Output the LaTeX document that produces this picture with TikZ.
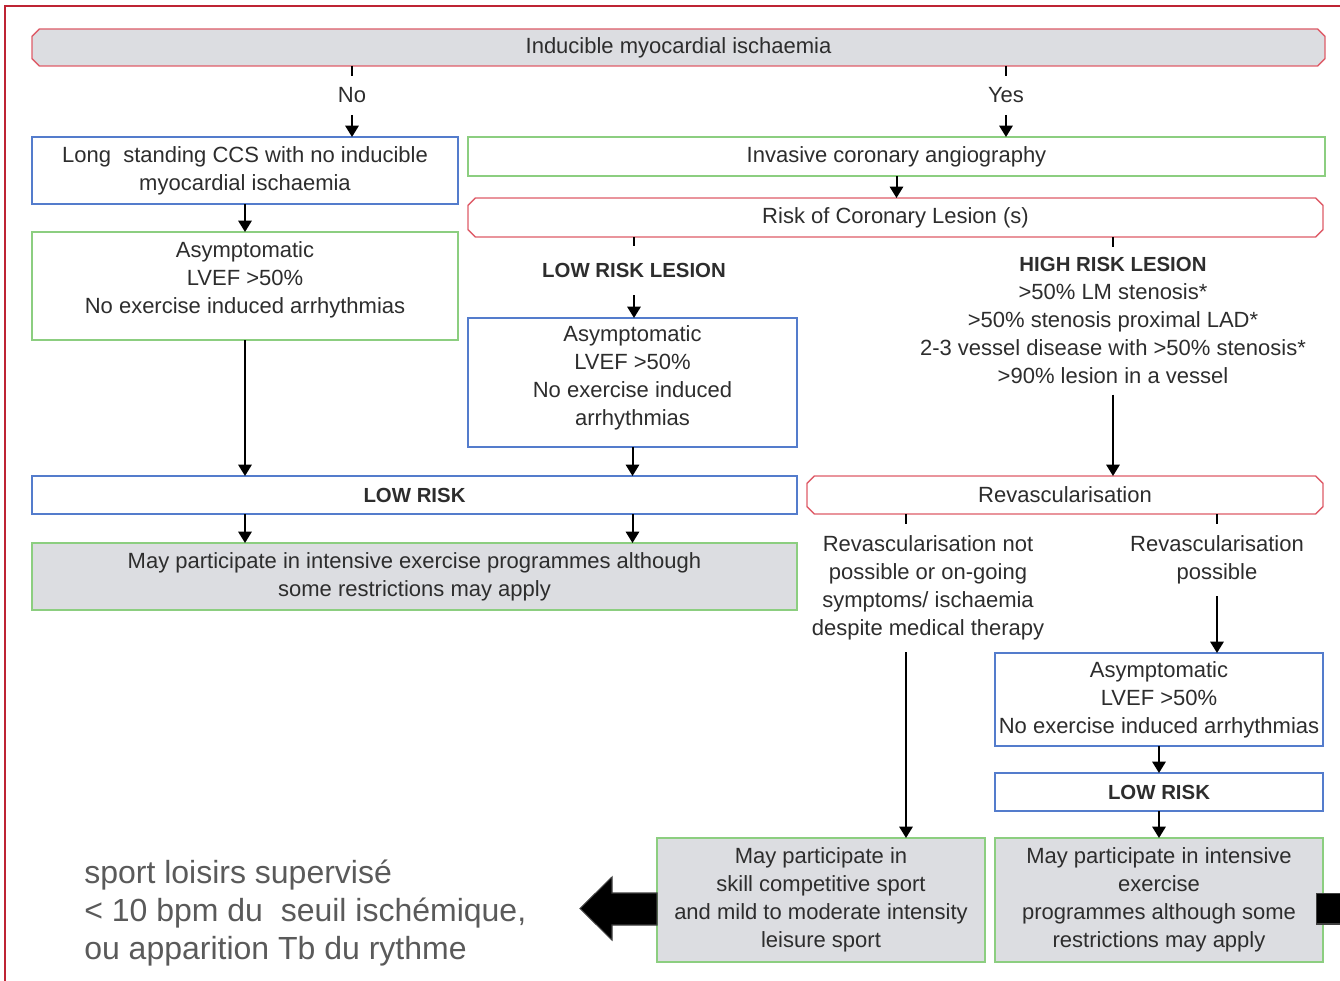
\documentclass[tikz,border=0pt]{standalone}
\usepackage{fontspec}
\setmainfont{Liberation Sans}
\usetikzlibrary{arrows.meta,backgrounds}
\definecolor{txt}{RGB}{45,45,45}
\definecolor{frtxt}{RGB}{90,90,90}
\definecolor{redc}{RGB}{222,92,104}
\definecolor{framec}{RGB}{190,36,52}
\definecolor{bluec}{RGB}{84,124,204}
\definecolor{greenc}{RGB}{140,206,128}
\definecolor{grayc}{RGB}{220,221,225}
\newcommand\mainsz{\fontsize{16.5}{21}\selectfont}
\newcommand\bsz{\bfseries\fontsize{15.3}{21}\selectfont}
\newcommand\bx[7]{\node[#6, minimum width={(#4-#2)*0.75pt}, minimum height={(#5-#3)*0.75pt}] (#1) at ({(#2+#4)/2},{(#3+#5)/2}) {#7};}
\newcommand\chamf[2]{\begin{scope}[on background layer]\path[draw=redc, line width=1.1pt, fill=#2]
 ([xshift=5.5pt]#1.north west) -- ([xshift=-5.5pt]#1.north east) -- ([yshift=-5.5pt]#1.north east) -- ([yshift=5.5pt]#1.south east) -- ([xshift=-5.5pt]#1.south east) -- ([xshift=5.5pt]#1.south west) -- ([yshift=5.5pt]#1.south west) -- ([yshift=-5.5pt]#1.north west) -- cycle;\end{scope}}
\begin{document}
\begin{tikzpicture}[x=0.75pt,y=-0.75pt,
  box/.style={draw, line width=1.1pt, inner sep=0pt, outer sep=0pt, align=center, text=txt, font=\mainsz},
  bluebox/.style={box, draw=bluec, fill=white},
  greenbox/.style={box, draw=greenc, fill=white},
  graybox/.style={box, draw=greenc, fill=grayc},
  chbox/.style={box, draw=none},
  lab/.style={inner sep=0pt, outer sep=0pt, align=center, text=txt, font=\mainsz},
  arr/.style={-{Triangle[width=10pt,length=8.5pt]}, line width=1.5pt, black},
  tick/.style={line width=1.5pt, black}]
\useasboundingbox (0,0) rectangle (1340,981);
% outer frame
\draw[framec, line width=1.8pt] (5,985) -- (5,6) -- (1345,6);
% boxes
\bx{ind}{32}{29}{1325}{66}{chbox}{Inducible myocardial ischaemia}
\chamf{ind}{grayc}
\bx{long}{32}{137}{458}{204}{bluebox}{Long\ \ standing CCS with no inducible\\myocardial ischaemia}
\bx{inv}{468}{137}{1325}{176}{greenbox}{Invasive coronary angiography}
\bx{risk}{468}{198}{1323}{237}{chbox}{Risk of Coronary Lesion (s)}
\chamf{risk}{white}
\bx{asyma}{32}{232}{458}{340}{greenbox, text depth=13.3pt}{Asymptomatic\\LVEF >50\%\\No exercise induced arrhythmias}
\bx{asymb}{468}{318}{797}{447}{bluebox, text depth=10.3pt}{Asymptomatic\\LVEF >50\%\\No exercise induced\\arrhythmias}
\bx{low}{32}{476}{797}{514}{bluebox}{\bsz LOW RISK}
\bx{revasc}{807}{476}{1323}{514}{chbox}{Revascularisation}
\chamf{revasc}{white}
\bx{may}{32}{543}{797}{610}{graybox}{May participate in intensive exercise programmes although\\some restrictions may apply}
\bx{asymc}{995}{653}{1323}{746}{bluebox}{Asymptomatic\\LVEF >50\%\\No exercise induced arrhythmias}
\bx{lowc}{995}{773}{1323}{811}{bluebox}{\bsz LOW RISK}
\bx{mayc}{995}{838}{1323}{962}{graybox}{May participate in intensive\\exercise\\programmes although some\\restrictions may apply}
\bx{sk}{657}{838}{985}{962}{graybox}{May participate in\\skill competitive sport\\and mild to moderate intensity\\leisure sport}
% labels
\node[lab, minimum height={39*0.75pt}] (no) at (352,95.5) {No};
\node[lab, minimum height={39*0.75pt}] (yes) at (1006,95.5) {Yes};
\node[lab, minimum height={49*0.75pt}] (lrl) at (634,270.5) {\bsz LOW RISK LESION};
\node[lab, minimum height={148*0.75pt}] (hrl) at (1113,320.5) {{\bsz HIGH RISK LESION}\\>50\% LM stenosis*\\>50\% stenosis proximal LAD*\\2-3 vessel disease with >50\% stenosis*\\>90\% lesion in a vessel};
\node[lab, minimum height={128*0.75pt}] (rnp) at (928,588) {Revascularisation not\\possible or on-going\\symptoms/ ischaemia\\despite medical therapy};
\node[lab, minimum height={72*0.75pt}] (rp) at (1217,560) {Revascularisation\\possible};
\coordinate (cnp) at (906,0);
% connectors
\draw[tick] (no |- ind.south) -- (no.north);
\draw[arr] (no.south) -- (no |- long.north);
\draw[tick] (yes |- ind.south) -- (yes.north);
\draw[arr] (yes.south) -- (yes |- inv.north);
\draw[arr] (inv.south) -- (inv.south |- risk.north);
\draw[arr] (long) -- (asyma);
\draw[tick] (lrl |- risk.south) -- (lrl.north);
\draw[arr] (lrl.south) -- (lrl |- asymb.north);
\draw[tick] (hrl |- risk.south) -- (hrl.north);
\draw[arr] (hrl.south) -- (hrl |- revasc.north);
\draw[arr] (asyma.south) -- (asyma.south |- low.north);
\draw[arr] (asymb.south) -- (asymb.south |- low.north);
\draw[arr] (low.south -| asyma) -- (may.north -| asyma);
\draw[arr] (low.south -| asymb) -- (may.north -| asymb);
\draw[tick] (revasc.south -| cnp) -- (rnp.north -| cnp);
\draw[arr] (rnp.south -| cnp) -- (sk.north -| cnp);
\draw[tick] (revasc.south -| rp) -- (rp.north);
\draw[arr] (rp.south) -- (rp |- asymc.north);
\draw[arr] (asymc) -- (lowc);
\draw[arr] (lowc) -- (mayc);
% block arrows
\path[fill=black, draw=black!75, line width=0.8pt] (657,893) -- (612,893) -- (612,877) -- (580,908.5) -- (612,940) -- (612,925) -- (657,925) -- cycle;
\path[fill=black, draw=black!75, line width=0.8pt] (1316.5,893.5) rectangle (1348,924);
% French note
\node[anchor=west, align=left, inner sep=0pt, text=frtxt, font=\fontsize{24}{28.2}\selectfont] (fr) at (84,913) {sport loisirs supervisé\\< 10 bpm du\ \ seuil ischémique,\\ou apparition Tb du rythme};
\end{tikzpicture}
\end{document}
